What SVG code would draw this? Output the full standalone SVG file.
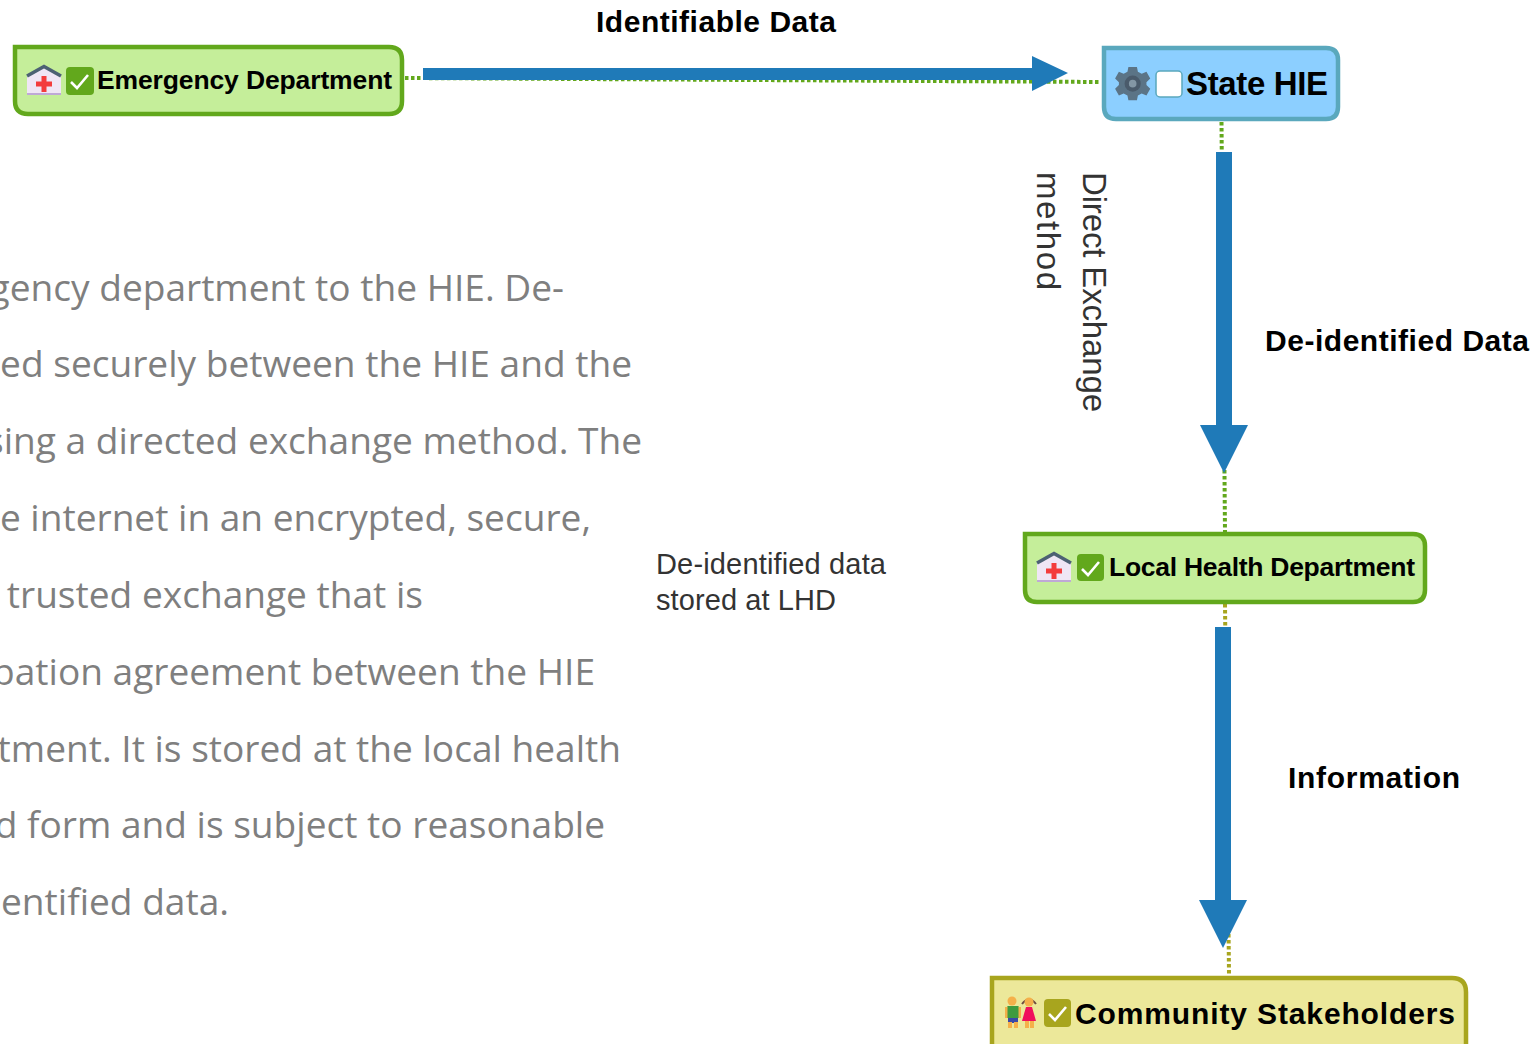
<svg xmlns="http://www.w3.org/2000/svg" width="1536" height="1044" viewBox="0 0 1536 1044">
<style>
text{font-family:"Liberation Sans",Arial,sans-serif}
.b{font-weight:700;fill:#000}
.para{font-family:"Open Sans","Noto Sans",sans-serif;font-size:37.1px;fill:#7f7f7f;text-anchor:end}
.lab{font-weight:700;font-size:30px;fill:#000}
.note{font-size:29px;fill:#333}
.rot{font-size:33px;fill:#333}
.dg{fill:none;stroke:#62a81c;stroke-width:4;stroke-dasharray:3.500 2.500}
.dy{fill:none;stroke:#a8a51e;stroke-width:4;stroke-dasharray:3.500 2.500}
.arrow{fill:#1f7ab8}
.green{fill:#c5ee9a;stroke:#62a81c;stroke-width:4.500}
.blue{fill:#8ccfff;stroke:#5aa8bd;stroke-width:4.500}
.yellow{fill:#ece89a;stroke:#a8a51e;stroke-width:4.500}
.tick{fill:none;stroke:#fff;stroke-width:2.600}
</style>
<defs>
<g id="house">
<path d="M0 10 L17 0 L34 10 L34 29 L0 29Z" fill="#efe6f5"/>
<path d="M0 11 L17 1.500 L34 11" fill="none" stroke="#4c6173" stroke-width="3.500"/>
<rect x="0" y="28" width="34" height="2" fill="#bfa9d6"/>
<path d="M14.500 11h5v5.500h5.500v5h-5.500v5.500h-5v-5.500h-5.500v-5h5.500z" fill="#f33c3c"/>
</g>
<g id="gear">
<path d="M12 0h9l1 5 4 2 5-2 4 7-4 4v3l4 4-4 7-5-2-4 2-1 5h-9l-1-5-4-2-5 2-4-7 4-4v-3l-4-4 4-7 5 2 4-2z" fill="#5b7486"/>
<circle cx="16.500" cy="17.500" r="8.500" fill="#4a5b6b"/>
<circle cx="16.500" cy="17.500" r="4" fill="#8397a5"/>
</g>
</defs>

<g id="connectors">
<path class="dg" d="M405 78L1100 82"/>
<path class="dg" d="M1221.500 122L1225 533"/>
<path class="dy" d="M1225 604L1229 974"/>
<path class="arrow" d="M423 68H1032V56L1068 73L1032 91V80H423Z"/>
<path class="arrow" d="M1216 152H1232V425H1248L1224 473L1200 425H1216Z"/>
<path class="arrow" d="M1215 627H1231V900H1247L1223 948L1199 900H1215Z"/>
</g>

<g id="edge-labels">
<text class="lab" x="596" y="32" textLength="240">Identifiable Data</text>
<text class="lab" x="1265" y="351" textLength="264">De-identified Data</text>
<text class="lab" x="1288" y="788" textLength="172">Information</text>
<text class="rot" transform="translate(1083 172) rotate(90)" textLength="240">Direct Exchange</text>
<text class="rot" transform="translate(1037 172) rotate(90)" textLength="118">method</text>
<text class="note" x="656" y="574" textLength="230">De-identified data</text>
<text class="note" x="656" y="610" textLength="180">stored at LHD</text>
</g>

<g id="body-text">
<text class="para" x="564" y="301">gency department to the HIE. De-</text>
<text class="para" x="632" y="377">ed securely between the HIE and the</text>
<text class="para" x="642" y="454">sing a directed exchange method. The</text>
<text class="para" x="591" y="531">e internet in an encrypted, secure,</text>
<text class="para" x="423" y="608">trusted exchange that is</text>
<text class="para" x="595" y="685">pation agreement between the HIE</text>
<text class="para" x="621" y="762">tment. It is stored at the local health</text>
<text class="para" x="605" y="838">d form and is subject to reasonable</text>
<text class="para" x="229" y="915">entified data.</text>
</g>

<g id="emergency-department">
<path class="green" d="M15 47H389Q402 47 402 60V101Q402 114 389 114H28Q15 114 15 101Z"/>
<use href="#house" x="27" y="65"/>
<rect x="66" y="67" width="28" height="28" rx="4" fill="#62a81c"/>
<path class="tick" d="M71 82L77 88L88 75"/>
<text class="b" x="97" y="89" font-size="26.500" textLength="295">Emergency Department</text>
</g>

<g id="state-hie">
<path class="blue" d="M1104 48H1326Q1338 48 1338 60V107Q1338 119 1326 119H1116Q1104 119 1104 107Z"/>
<use href="#gear" transform="translate(1117 67) scale(.95)"/>
<rect x="1156" y="71" width="26" height="26" rx="4" fill="#fff" stroke="#5aa8bd" stroke-width="1.500"/>
<text class="b" x="1186" y="95" font-size="33" textLength="142">State HIE</text>
</g>

<g id="local-health-department">
<path class="green" d="M1025 534H1413Q1425 534 1425 546V590Q1425 602 1413 602H1037Q1025 602 1025 590Z"/>
<use href="#house" x="1037" y="552"/>
<rect x="1077" y="554" width="27" height="27" rx="4" fill="#62a81c"/>
<path class="tick" d="M1082 569L1088 575L1099 562"/>
<text class="b" x="1109" y="576" font-size="26.500" textLength="306">Local Health Department</text>
</g>

<g id="community-stakeholders">
<path class="yellow" d="M992 978H1452Q1466 978 1466 992V1060H992Z"/>
<g id="people">
<circle cx="1012" cy="1001" r="4.500" fill="#f5b04a"/>
<path d="M1008 1006H1018Q1019 1006 1019 1008V1018H1007V1008Q1007 1006 1008 1006Z" fill="#3f9b3f"/>
<rect x="1005" y="1007" width="2.500" height="11" fill="#f5b04a"/><rect x="1018.500" y="1007" width="2.500" height="11" fill="#f5b04a"/>
<rect x="1008" y="1018" width="10" height="5" fill="#3a49a8"/>
<rect x="1008" y="1022" width="4" height="6" fill="#f5b04a"/><rect x="1014" y="1022" width="4" height="6" fill="#f5b04a"/>
<path d="M1022 1004Q1029 995 1036 1004" fill="none" stroke="#6d4c41" stroke-width="2"/>
<circle cx="1029" cy="1002" r="4.500" fill="#f5b04a"/>
<path d="M1026 1007H1032L1036 1021H1022Z" fill="#f00f5c"/>
<rect x="1025" y="1021" width="4" height="7" fill="#f5b04a"/><rect x="1030" y="1021" width="4" height="7" fill="#f5b04a"/>
</g>
<rect x="1044" y="999" width="27" height="28" rx="4" fill="#a8a51e"/>
<path class="tick" d="M1049 1014L1055 1020L1066 1007"/>
<text class="b" x="1075" y="1024" font-size="30" textLength="380">Community Stakeholders</text>
</g>
</svg>
